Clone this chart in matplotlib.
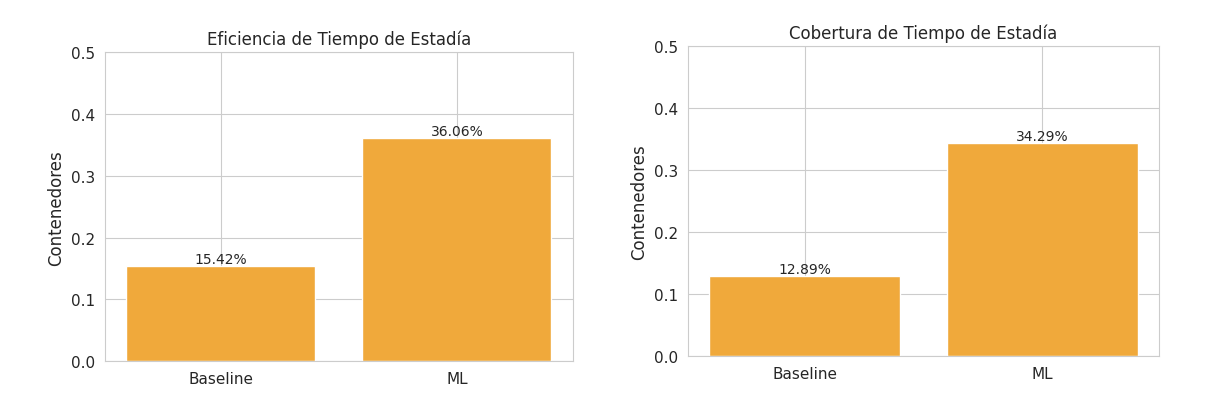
import matplotlib.pyplot as plt
import seaborn as sns

sns.set_style("whitegrid")

categories = ["Baseline", "ML"]
eficiencia = [0.1542, 0.3606]
cobertura = [0.1289, 0.3429]
titles = ["Eficiencia de Tiempo de Estadía", "Cobertura de Tiempo de Estadía"]
bar_color = "#F0A93B"

fig = plt.figure(figsize=(12.08, 4.06), dpi=100)
positions = [[0.087, 0.108, 0.387, 0.761], [0.5695, 0.121, 0.39, 0.763]]

for pos, vals, title in zip(positions, [eficiencia, cobertura], titles):
    ax = fig.add_axes(pos)
    bars = ax.bar(categories, vals, color=bar_color, width=0.8)
    for b, v in zip(bars, vals):
        ax.text(b.get_x() + b.get_width() / 2, v, f"{v*100:.2f}%",
                ha="center", va="bottom", fontsize=10, color="#262626")
    ax.set_ylim(0, 0.5)
    ax.set_ylabel("Contenedores", fontsize=12, color="#262626")
    ax.set_title(title, fontsize=12, color="#262626")
    ax.tick_params(labelsize=11, colors="#262626")
    for s in ax.spines.values():
        s.set_color("#cccccc")

fig.savefig("out.png", dpi=100, facecolor="white")
